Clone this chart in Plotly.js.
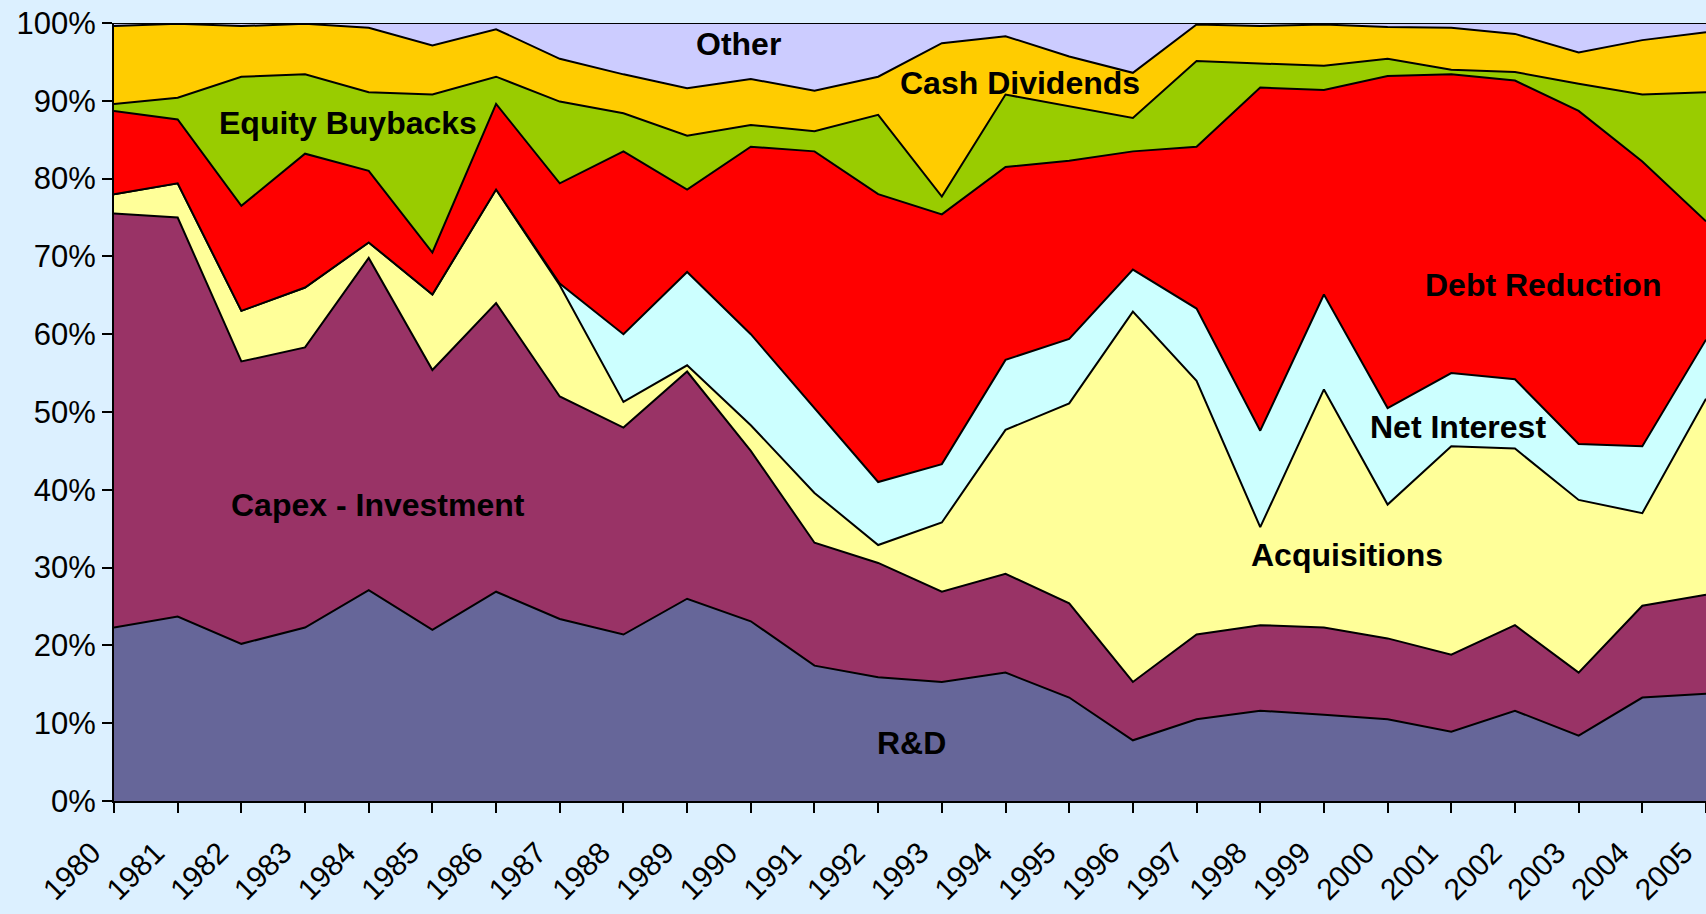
<!DOCTYPE html>
<html>
<head>
<meta charset="utf-8">
<script src="https://cdn.plot.ly/plotly-3.0.1.min.js"></script>
<style>
  html, body { margin: 0; padding: 0; background: #DCF0FF; }
  #chart { width: 1706px; height: 914px; }
</style>
</head>
<body>
<div id="chart"></div>
<script>
const years = [1980,1981,1982,1983,1984,1985,1986,1987,1988,1989,1990,1991,1992,1993,1994,1995,1996,1997,1998,1999,2000,2001,2002,2003,2004,2005];
const yearLabels = years.map(String);

// Shares of total cash uses (%) per year
const rnd          = [22.3,23.7,20.2,22.3,27.1,22.0,26.9,23.4,21.4,26.0,23.1,17.4,15.9,15.3,16.5,13.3,7.8,10.5,11.6,11.1,10.5,8.9,11.6,8.4,13.3,13.8];
const capex        = [53.2,51.3,36.3,36.0,42.7,33.4,37.1,28.6,26.6,29.2,21.9,15.8,14.7,11.6,12.7,12.1,7.5,10.9,11.0,11.2,10.4,9.9,11.0,8.1,11.8,12.7];
const acquisitions = [2.5,4.4,6.5,7.7,2.0,9.7,14.6,14.3,3.3,0.8,3.3,6.4,2.3,8.9,18.5,25.7,47.6,32.6,12.6,30.6,17.2,26.8,22.7,22.2,11.9,25.2];
const netInterest  = [0,0,0,0,0,0,0,0.2,8.7,12.0,11.7,10.9,8.1,7.5,9.0,8.3,5.4,9.3,12.4,12.2,12.4,9.4,8.9,7.2,8.6,7.6];
const debtReduction= [10.7,8.2,13.5,17.2,9.2,5.4,11.0,12.9,23.5,10.6,24.1,33.0,37.0,32.1,24.8,22.9,15.2,20.8,44.1,26.3,42.7,38.4,38.4,42.8,36.6,15.2];
const buybacks     = [0.9,2.8,16.6,10.2,10.1,20.3,3.5,10.5,4.9,6.9,2.8,2.6,10.2,2.3,9.3,7.0,4.3,11.0,3.1,3.1,2.2,0.6,1.1,3.5,8.6,16.6];
const dividends    = [10.0,9.5,6.5,6.5,8.3,6.3,6.1,5.5,5.0,6.1,5.9,5.2,4.9,19.7,7.5,6.4,5.8,4.7,4.8,5.3,4.1,5.4,4.9,4.0,7.0,7.7];
const other        = [0.4,0.1,0.4,0.1,0.6,2.9,0.8,4.6,6.6,8.4,7.2,8.7,6.9,2.6,1.7,4.3,6.4,0.2,0.4,0.2,0.5,0.6,1.4,3.8,2.2,1.2];

const seriesNames = ["R&D","Capex - Investment","Acquisitions","Net Interest","Debt Reduction","Equity Buybacks","Cash Dividends","Other"];
const seriesData  = [rnd, capex, acquisitions, netInterest, debtReduction, buybacks, dividends, other];
const seriesColors = ["#666699","#993366","#FFFF99","#CCFFFF","#FF0000","#99CC00","#FFCC00","#CCCCFF"];

// Label positions (x in years, y in %)
const labelText = ["Other","Cash Dividends","Equity Buybacks","Debt Reduction","Net Interest","Acquisitions","Capex - Investment","R&D"];
const labelX    = [1989.81,1994.22,1983.67,2002.44,2001.10,1999.36,1984.15,1992.53];
const labelY    = [97.3,92.3,87.1,66.3,48.1,31.6,38.0,7.4];

const traces = seriesNames.map((name, i) => ({
  type: "scatter",
  mode: "lines",
  name: name,
  x: years,
  y: seriesData[i],
  stackgroup: "one",
  fillcolor: seriesColors[i],
  line: { color: "#000000", width: 2 },
  hoverinfo: "skip"
}));

const annotations = labelText.map((t, i) => ({
  x: labelX[i], y: labelY[i], xref: "x", yref: "y",
  text: "<b>" + t + "</b>", showarrow: false,
  font: { family: "Liberation Sans, Arial, sans-serif", size: 32, color: "#000000" }
}));

const layout = {
  width: 1706, height: 914,
  paper_bgcolor: "#DCF0FF",
  plot_bgcolor: "#DCF0FF",
  showlegend: false,
  margin: { l: 114, r: 0, t: 23, b: 113 },
  font: { family: "Liberation Sans, Arial, sans-serif", size: 31, color: "#000000" },
  xaxis: {
    range: [1980, 2005],
    tickmode: "array", tickvals: years, ticktext: yearLabels,
    tickangle: -45,
    ticks: "outside", ticklen: 10, tickwidth: 2, tickcolor: "#000000",
    showline: true, linecolor: "#000000", linewidth: 2,
    showgrid: false, zeroline: false,
    tickfont: { size: 30 },
    ticklabelstandoff: 10,
    ticklabelshift: -22,
    ticklabeloverflow: "allow"
  },
  yaxis: {
    range: [0, 100],
    tickmode: "linear", tick0: 0, dtick: 10, ticksuffix: "%",
    ticks: "outside", ticklen: 10, tickwidth: 2, tickcolor: "#000000",
    showline: true, linecolor: "#000000", linewidth: 2,
    showgrid: false, zeroline: false,
    tickfont: { size: 31 }
  },
  annotations: annotations
};

Plotly.newPlot("chart", traces, layout, { displayModeBar: false, staticPlot: true });
</script>
</body>
</html>
